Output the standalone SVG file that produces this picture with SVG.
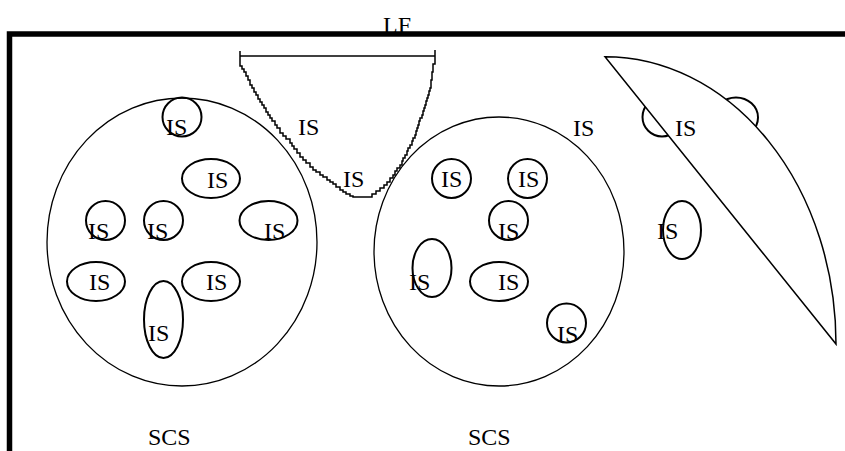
<svg xmlns="http://www.w3.org/2000/svg" width="845" height="451" viewBox="0 0 845 451" font-family="'Liberation Serif', 'Times New Roman', 'DejaVu Serif', serif">
  <style>
    text { font-family: "Liberation Serif", "Times New Roman", "DejaVu Serif", serif; font-size: 24px; fill: #000; }
    .big { fill: none; stroke: #000; stroke-width: 1.3; }
    .is { fill: none; stroke: #000; stroke-width: 2; }
    .edge { fill: none; stroke: #000; stroke-width: 1.5; }
    .seg { fill: #fff; stroke: #000; stroke-width: 1.5; }
    .frame { fill: none; stroke: #000; stroke-width: 5.5; stroke-linejoin: miter; }
  </style>
  <rect width="845" height="451" fill="#fff"/>

  <!-- frame label, partly under the frame line -->
  <text x="383" y="33">LF</text>
  <path id="frame" class="frame" d="M9.5,451 V34 H845"/>

  <!-- left cell -->
  <g id="scs-left">
    <ellipse class="big" cx="182" cy="242" rx="135" ry="144"/>
    <text x="148" y="445">SCS</text>
  </g>
  <g id="is-l1"><circle class="is" cx="182" cy="117" r="19.5"/><text x="166" y="135">IS</text></g>
  <g id="is-l2"><ellipse class="is" cx="211" cy="178.5" rx="29" ry="19.5"/><text x="207" y="188">IS</text></g>
  <g id="is-l3"><circle class="is" cx="105.5" cy="220.5" r="19.5"/><text x="88" y="239">IS</text></g>
  <g id="is-l4"><circle class="is" cx="163.5" cy="220.5" r="19.5"/><text x="147" y="239">IS</text></g>
  <g id="is-l5"><ellipse class="is" cx="268.5" cy="220.5" rx="29" ry="19.5"/><text x="264" y="239">IS</text></g>
  <g id="is-l6"><ellipse class="is" cx="96" cy="281.5" rx="29" ry="19.5"/><text x="89" y="290">IS</text></g>
  <g id="is-l7"><ellipse class="is" cx="211" cy="281.5" rx="29" ry="19.5"/><text x="206" y="290">IS</text></g>
  <g id="is-l8"><ellipse class="is" cx="163.5" cy="319.5" rx="19.5" ry="38.5"/><text x="148" y="341">IS</text></g>

  <!-- funnel-shaped inclusion with stepped edges -->
  <g id="funnel">
    <path class="edge" d="M240,56 H435"/>
    <path class="edge" d="M240,51 V66 H242 V69 H244 V72 H246 V76 H248 V80 H250 V85 H252 V88 H254 V92 H256 V95 H258 V99 H260 V102 H262 V105 H264 V108 H266 V112 H268 V115 H270 V118 H272 V121 H275 V125 H277 V128 H280 V133 H283 V136 H286 V139 H290 V143 H292 V146 H294 V149 H297 V153 H300 V157 H303 V160 H306 V163 H310 V167 H313 V170 H316 V172 H320 V175 H323 V177 H327 V180 H330 V182 H333 V184 H336 V187 H340 V190 H343 V192 H346 V194 H350 V196 H353 V197 H372 V194 H376 V191 H380 V188 H384 V185 H387 V182 H390 V178 H393 V175 H395 V171 H397 V168 H400 V165 H402 V161 H403 V158 H405 V155 H407 V151 H408 V148 H410 V145 H412 V141 H413 V138 H415 V135 H416 V131 H417 V128 H418 V125 H419 V121 H420 V118 H422 V115 H423 V111 H424 V108 H425 V105 H426 V101 H427 V98 H428 V95 H429 V91 H430 V88 H431 V80 H432 V72 H433 V64 H435 V50"/>
    <text x="298" y="135">IS</text>
    <text x="343" y="187">IS</text>
  </g>

  <!-- right cell -->
  <g id="scs-right">
    <ellipse class="big" cx="499" cy="251.5" rx="125" ry="134.5"/>
    <text x="468" y="445">SCS</text>
  </g>
  <g id="is-r1"><circle class="is" cx="451.5" cy="178.5" r="19.5"/><text x="441" y="187">IS</text></g>
  <g id="is-r2"><circle class="is" cx="527.5" cy="178.5" r="19.5"/><text x="518" y="187">IS</text></g>
  <g id="is-r3"><circle class="is" cx="508.5" cy="220.5" r="19.5"/><text x="498" y="239">IS</text></g>
  <g id="is-r4"><ellipse class="is" cx="432" cy="268" rx="19.5" ry="29"/><text x="409" y="290">IS</text></g>
  <g id="is-r5"><ellipse class="is" cx="499" cy="281.5" rx="29" ry="19.5"/><text x="498" y="290">IS</text></g>
  <g id="is-r6"><circle class="is" cx="566.5" cy="323" r="19.5"/><text x="557" y="342">IS</text></g>
  <g id="is-free"><text x="573" y="136">IS</text></g>

  <!-- segment region, drawn over the inclusions it overlaps -->
  <g id="segment">
    <circle class="is" cx="662" cy="117" r="19.5"/>
    <ellipse class="is" cx="736" cy="117.5" rx="22" ry="20"/>
    <path class="seg" d="M605,56.7 A231,287.3 0 0 1 836,344 Z"/>
    <text x="675" y="136">IS</text>
  </g>
  <g id="is-s1"><ellipse class="is" cx="682" cy="230" rx="19" ry="29"/><text x="657" y="239">IS</text></g>
</svg>
